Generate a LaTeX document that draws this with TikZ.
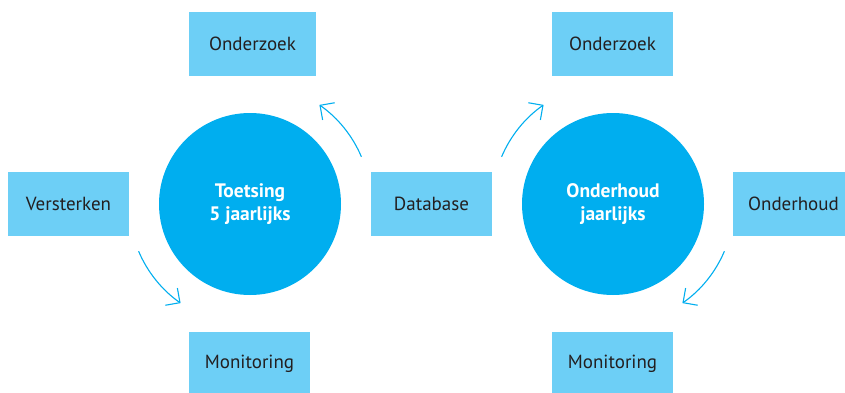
\documentclass[tikz,border=0pt]{standalone}
\usepackage{fontspec}
\setmainfont{PT Sans}
\usetikzlibrary{arrows.meta}
\definecolor{boxblue}{HTML}{6DCFF6}
\definecolor{discblue}{HTML}{00AEEF}
\definecolor{ink}{HTML}{231F20}
\tikzset{
  taskbox/.style={rectangle, fill=boxblue, draw=none, minimum width=121pt,
    minimum height=64pt, inner sep=0pt, text=ink,
    font=\fontsize{19}{23}\selectfont},
  cycle/.style={circle, fill=discblue, draw=none, minimum size=182pt,
    inner sep=0pt, text=white, align=center,
    font=\fontsize{19.5}{23}\selectfont\bfseries},
  turn/.style={discblue, line width=1.1pt,
    -{Straight Barb[length=10.5pt,width=21pt,line width=1.1pt]}}
}
\begin{document}
\begin{tikzpicture}[x=1pt,y=1pt]
  \useasboundingbox (0,0) rectangle (845,392);
  % the two cycles
  \node[cycle] (toets) at (250,188) {Toetsing\\5 jaarlijks};
  \node[cycle] (onder) at (613,188) {Onderhoud\\jaarlijks};
  % activities around the left cycle
  \node[taskbox, minimum width=127pt] (oz1) at (252.5,348) {Onderzoek};
  \node[taskbox] (vs)  at (68.5,188)  {Versterken};
  \node[taskbox] (mo1) at (249.5,28)  {Monitoring};
  \node[taskbox] (db)  at (431.5,188) {Database};
  % activities around the right cycle
  \node[taskbox] (oz2) at (612.5,348) {Onderzoek};
  \node[taskbox] (oh)  at (793.5,188) {Onderhoud};
  \node[taskbox] (mo2) at (612.5,28)  {Monitoring};
  % circulating arrows
  \draw[turn] (toets.center) ++(23:121) arc[start angle=23, end angle=55, radius=121];
  \draw[turn] (toets.center) ++(203:121) arc[start angle=203, end angle=235, radius=121];
  \draw[turn] (onder.center) ++(157:121) arc[start angle=157, end angle=125, radius=121];
  \draw[turn] (onder.center) ++(-23:121) arc[start angle=-23, end angle=-55, radius=121];
\end{tikzpicture}
\end{document}
